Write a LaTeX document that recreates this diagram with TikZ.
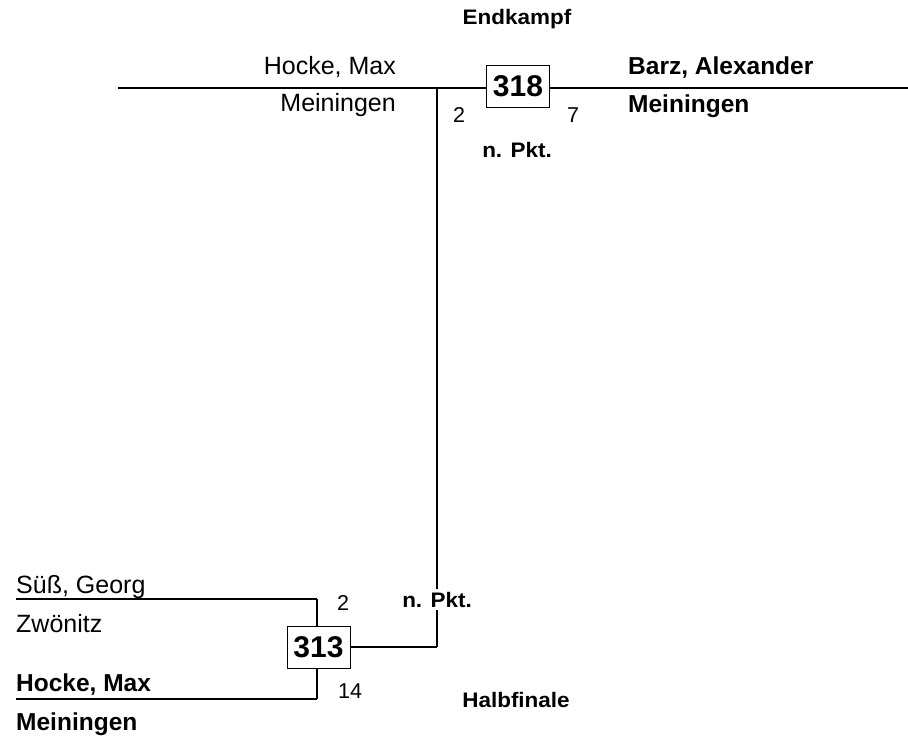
\documentclass[tikz,border=0pt]{standalone}
\usepackage{fontspec}
\setmainfont{Liberation Sans}
\usetikzlibrary{positioning}
\tikzset{fighter/.style={inner sep=0pt, font=\fontsize{25}{25}\selectfont},
winner/.style={inner sep=0pt, font=\fontsize{24.5}{24.5}\selectfont\bfseries},
bout/.style={rectangle, draw, line width=0.9pt, fill=white, inner sep=0pt,
minimum width=63pt, minimum height=42pt, font=\fontsize{30}{30}\selectfont\bfseries},
score/.style={inner sep=0pt, font=\fontsize{21.5}{21.5}\selectfont},
note/.style={inner sep=0pt, xscale=1.07, font=\fontsize{21}{21}\selectfont\bfseries},
wire/.style={line width=2.6pt},
vwire/.style={line width=2pt}}

\begin{document}
\begin{tikzpicture}[x=1pt,y=-1pt]
  \useasboundingbox (0,0) rectangle (908,738);

  % Endkampf
  \node (final) [note, anchor=base] at (517,25) {Endkampf};
  \coordinate (top1) at (118,88);
  \coordinate (top2) at (908,88);
  \coordinate (join) at (437,88);
  \draw [wire] (top1) -- (top2);
  \node (b318) [bout] at (518,86.5) {318};

  \node (redname) [fighter, anchor=base east] at (396,75) {Hocke, Max};
  \node (redclub) [fighter, anchor=base east] at (396,112) {Meiningen};
  \node (bluename) [winner, anchor=base west] at (628,75) {Barz, Alexander};
  \node (blueclub) [winner, anchor=base west] at (628,113) {Meiningen};
  \node (redpts) [score, anchor=base] at (459,123) {2};
  \node (bluepts) [score, anchor=base] at (573,123) {7};
  \node (finres) [note, anchor=base] at (517,158) {n. Pkt.};

  % Halbfinale
  \coordinate (sueA) at (16,599);
  \coordinate (sueB) at (317,599);
  \coordinate (hocA) at (16,699);
  \coordinate (hocB) at (317,699);
  \node (b313) [bout] at (318.5,647) {313};
  \coordinate (turn) at (437,647);
  \draw [wire] (sueA) -- (sueB);
  \draw [wire] (hocA) -- (hocB);
  \draw [vwire] (sueB) -- (b313.north -| sueB);
  \draw [vwire] (hocB) -- (b313.south -| hocB);
  \draw [wire] (b313.east) -- (turn);
  \draw [vwire] (turn) -- (join);

  \node (suename) [fighter, anchor=base west] at (16,593) {Süß, Georg};
  \node (sueclub) [fighter, anchor=base west] at (16,632) {Zwönitz};
  \node (hocname) [winner, anchor=base west] at (16,691) {Hocke, Max};
  \node (hocclub) [winner, anchor=base west] at (16,730) {Meiningen};
  \node (suepts) [score, anchor=base] at (343,610) {2};
  \node (hocpts) [score, anchor=base] at (350,698) {14};
  \node (semres) [note, anchor=base, fill=white, inner xsep=1pt, inner ysep=3pt] at (437,607) {n. Pkt.};
  \node (semi) [note, anchor=base] at (516,707) {Halbfinale};
\end{tikzpicture}
\end{document}
